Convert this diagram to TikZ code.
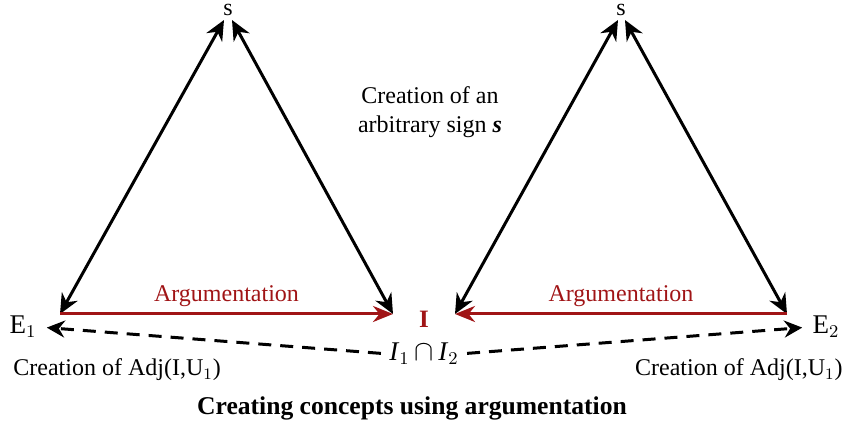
\documentclass[tikz,border=0pt]{standalone}
\usepackage{fontspec}
\setmainfont{Liberation Serif}
\usetikzlibrary{arrows.meta,positioning}
\definecolor{argred}{RGB}{160,20,22}
\tikzset{
  sidearr/.style={{Stealth[length=10pt,width=9pt]}-{Stealth[length=10pt,width=9pt]}, line width=1.5pt},
  argarr/.style={-{Stealth[length=10pt,width=8pt]}, argred, line width=1.5pt},
  adjarr/.style={-{Stealth[length=9pt,width=8.5pt]}, dash pattern=on 6.5pt off 4.5pt, line width=1.5pt},
  txt/.style={font=\fontsize{12}{14.5}\selectfont, inner sep=1pt},
  argtxt/.style={txt, text=argred},
  ttl/.style={font=\fontsize{12.8}{15}\selectfont\bfseries, inner sep=1pt},
}

\begin{document}
\begin{tikzpicture}[x=0.5pt, y=-0.5pt]
    \useasboundingbox (0,0) rectangle (848,426);
    % corners of the two triangles
    \coordinate (apLa) at (224,20); \coordinate (apLb) at (232,20);
    \coordinate (apRa) at (618,20); \coordinate (apRb) at (625,20);
    \coordinate (cE1) at (60,314);  \coordinate (cIL) at (393,314);
    \coordinate (cIR) at (455,314); \coordinate (cE2) at (787,314);
    % labels
    \node[txt, anchor=base] (sL) at (228,16) {s};
    \node[txt, anchor=base] (sR) at (621,16) {s};
    \node[txt, font=\fontsize{13.5}{16}\selectfont] (E1) at (23,327) {E$_1$};
    \node[txt, font=\fontsize{13.5}{16}\selectfont] (E2) at (826,327) {E$_2$};
    \node[txt, inner sep=0pt, font=\fontsize{12.5}{15}\selectfont\bfseries, text=argred] (I) at (424,319) {I};
    \node[txt, inner sep=0pt, font=\fontsize{13.5}{16}\selectfont] (cap) at (424,354) {\textit{I}$_1\,\cap\,$\textit{I}$_2$};
    \node[txt, anchor=west] (adjL) at (11,370) {Creation of Adj(I,U$_1$)};
    \node[txt, anchor=east] (adjR) at (845,370) {Creation of Adj(I,U$_1$)};
    \node[txt, align=center] (sign) at (430,112) {Creation of an\\arbitrary sign \textbf{\textit{s}}};
    \node[ttl] (title) at (412,408) {Creating concepts using argumentation};
    % left triangle
    \draw[sidearr] (apLa) -- (cE1);
    \draw[sidearr] (apLb) -- (cIL);
    \draw[argarr] (cE1) -- node[argtxt, above=2pt] (argL) {Argumentation} (cIL);
    % right triangle
    \draw[sidearr] (apRa) -- (cIR);
    \draw[sidearr] (apRb) -- (cE2);
    \draw[argarr] (cE2) -- node[argtxt, above=2pt] (argR) {Argumentation} (cIR);
    % intersection back to the concepts
    \draw[adjarr, shorten <=4pt, shorten >=4pt] (cap.west) -- (E1.east);
    \draw[adjarr, shorten <=4pt, shorten >=4pt] (cap.east) -- (E2.west);
\end{tikzpicture}
\end{document}
